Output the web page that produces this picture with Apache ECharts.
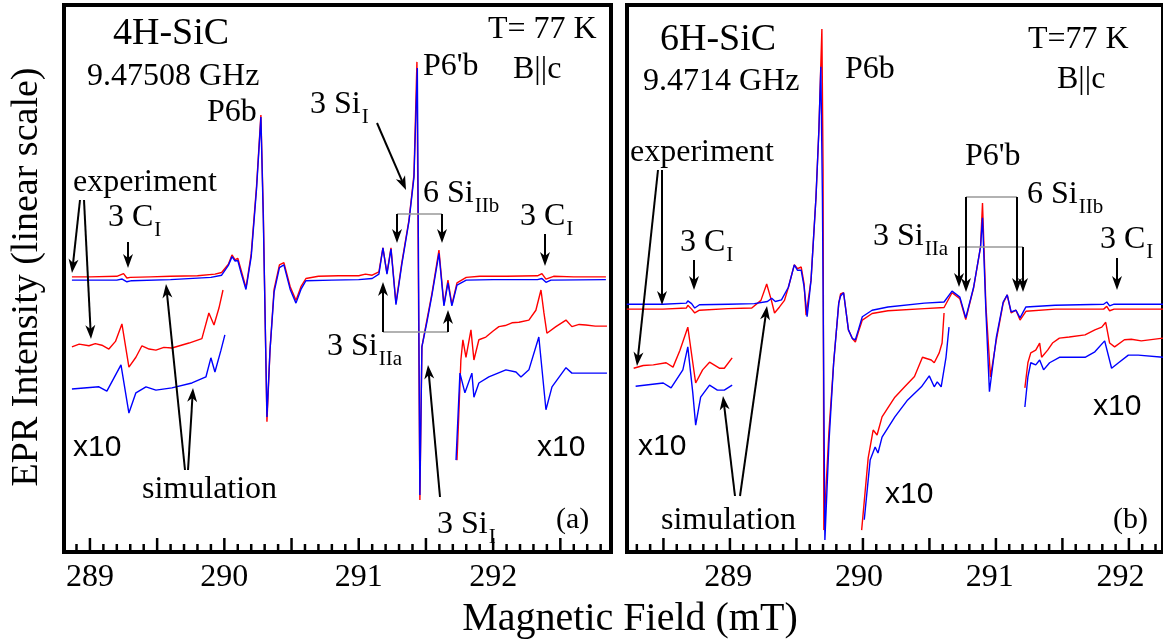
<!DOCTYPE html>
<html>
<head>
<meta charset="utf-8">
<script src="https://cdn.jsdelivr.net/npm/echarts@6/dist/echarts.min.js"></script>
<style>
  html, body { margin: 0; padding: 0; background: #fff; }
  #chart { width: 1163px; height: 641px; background: #fff; }
</style>
</head>
<body>
<div id="chart"></div>
<script>
// field (mT), intensity (a.u.)

// (a) 4H-SiC
const exp4H = [
  [288.866, 0.3], [289.0, 0.3], [289.2, 0.4], [289.25, 0.9], [289.275, 0.1], [289.3, 0.2], [289.45, 0.3],
  [289.6, 0.4], [289.8, 0.5], [289.93, 0.8], [289.98, 1.1], [290.03, 2.6], [290.057, 4.3], [290.08, 3.4],
  [290.1, 3.7], [290.125, 1.5], [290.161, -1.7], [290.2, 4.5], [290.24, 17], [290.272, 29.9], [290.29, 12],
  [290.317, -26.2], [290.34, -13], [290.37, -2], [290.41, 2.5], [290.443, 2.9], [290.49, -1.5], [290.533, -4.0],
  [290.57, -1.5], [290.607, 0.0], [290.7, 0.4], [290.85, 0.5], [291.0, 0.5], [291.05, 0.8], [291.1, 0.6],
  [291.15, 1.2], [291.18, 5.6], [291.21, 1.0], [291.24, 5.6], [291.277, -4.5], [291.32, 2.8], [291.374, 10.7],
  [291.411, 19], [291.433, 39.6], [291.455, -40.5], [291.47, -12.5], [291.507, -7.6], [291.545, -2.7],
  [291.597, 5.2], [291.634, -4.8], [291.664, -0.3], [291.693, -4.8], [291.731, -0.8], [291.8, 0.2], [291.9, 0.4],
  [292.1, 0.4], [292.33, 0.5], [292.363, 0.9], [292.393, -0.1], [292.45, 0.4], [292.6, 0.3], [292.839, 0.3]
];
const sim4H = [
  [288.866, -0.3], [289.2, -0.3], [289.24, -0.1], [289.275, -0.6], [289.31, -0.4], [289.6, -0.2], [289.9, 0.2],
  [289.98, 0.6], [290.03, 2.4], [290.057, 4.0], [290.08, 3.2], [290.1, 3.3], [290.125, 1.0], [290.161, -2.0],
  [290.2, 4], [290.24, 16.5], [290.272, 29.5], [290.29, 11], [290.317, -25.3], [290.34, -13], [290.37, -2.5],
  [290.41, 2.0], [290.443, 2.5], [290.49, -2.0], [290.533, -4.5], [290.57, -2.0], [290.607, -0.4], [290.8, -0.3],
  [291.0, -0.2], [291.1, 0.0], [291.15, 0.8], [291.18, 5.6], [291.21, 0.8], [291.24, 5.4], [291.277, -4.8],
  [291.32, 2.5], [291.374, 10.5], [291.411, 18.5], [291.436, 38.5], [291.455, -39.6], [291.47, -12.5],
  [291.507, -8], [291.545, -3.0], [291.597, 4.6], [291.634, -5.0], [291.664, -0.8], [291.693, -5.0],
  [291.731, -1.2], [291.8, -0.3], [292.0, -0.2], [292.33, -0.2], [292.363, 0.0], [292.393, -0.7], [292.43, -0.3],
  [292.839, -0.2]
];
const exp4H_x10a = [
  [288.866, -12.5], [288.92, -12.0], [288.993, -12.3], [289.04, -11.9], [289.089, -12.2], [289.141, -12.9],
  [289.19, -11.5], [289.238, -8.3], [289.29, -16.2], [289.342, -14.4], [289.387, -12.3], [289.44, -12.9],
  [289.491, -13.1], [289.55, -12.6], [289.61, -12.7], [289.68, -12.2], [289.737, -11.8], [289.833, -11.0],
  [289.885, -6.3], [289.923, -8.5], [289.96, -5.4], [289.99, -2.1]
];
const sim4H_x10a = [
  [288.866, -20.2], [289.067, -19.8], [289.126, -20.6], [289.231, -15.8], [289.29, -24.6], [289.342, -20.9],
  [289.417, -19.8], [289.491, -20.4], [289.61, -20.0], [289.759, -19.1], [289.863, -18.0], [289.9, -14.5],
  [289.93, -17.1], [289.975, -13.1], [290.004, -10.3]
];
const exp4H_x10b = [
  [291.731, -33.2], [291.746, -24.0], [291.76, -14.9], [291.775, -11.2], [291.798, -14.4], [291.835, -9.4],
  [291.857, -14.9], [291.894, -11.2], [291.946, -10.7], [292.0, -9.6], [292.043, -8.8], [292.09, -8.6],
  [292.14, -8.1], [292.192, -8.0], [292.266, -7.6], [292.318, -5.8], [292.356, -2.1], [292.378, -6.3],
  [292.4, -10.0], [292.467, -8.8], [292.542, -7.6], [292.586, -8.8], [292.64, -8.4], [292.69, -8.5],
  [292.76, -8.7], [292.847, -8.7]
];
const sim4H_x10b = [
  [291.724, -33.2], [291.753, -17.3], [291.79, -20.9], [291.842, -17.3], [291.857, -21.7], [291.894, -19.1],
  [291.968, -18.0], [292.095, -16.7], [292.17, -17.1], [292.207, -18.0], [292.266, -16.7], [292.34, -10.7],
  [292.393, -24.0], [292.438, -19.8], [292.542, -16.3], [292.586, -17.3], [292.64, -17.3], [292.847, -17.3]
];

// (b) 6H-SiC
const exp6H = [
  [288.224, -5.6], [288.5, -5.6], [288.68, -5.4], [288.691, -4.9], [288.72, -5.6], [288.744, -6.3], [288.78, -5.8],
  [289.0, -5.5], [289.18, -5.4], [289.25, -4.0], [289.294, -1.0], [289.33, -4.0], [289.354, -6.3], [289.392, -5.2],
  [289.43, -4.0], [289.46, -1.6], [289.505, 2.5], [289.53, 1.8], [289.558, 2.1], [289.58, -1.0], [289.595, -6.7],
  [289.633, -0.3], [289.671, 14.9], [289.693, 27.1], [289.716, 45.6], [289.725, 20], [289.731, -46.0],
  [289.77, -28], [289.806, -15.4], [289.845, -4.5], [289.859, -2.8], [289.882, -2.6], [289.919, -9.4],
  [289.95, -11.0], [289.972, -11.6], [289.995, -9.8], [290.025, -7.6], [290.1, -6.4], [290.221, -5.9],
  [290.5, -5.5], [290.65, -5.3], [290.711, -2.6], [290.771, -3.7], [290.816, -7.5], [290.876, -1.7],
  [290.929, 5.8], [290.944, 13.8], [290.97, -5], [291.005, -18.0], [291.05, -11.2], [291.102, -4.5],
  [291.133, -3.0], [291.163, -6.3], [291.2, -5.8], [291.231, -7.6], [291.276, -6.0], [291.5, -5.6],
  [291.87, -5.6], [291.894, -5.1], [291.916, -5.9], [291.95, -5.6], [292.324, -5.6]
];
const sim6H = [
  [288.224, -4.7], [288.5, -4.7], [288.68, -4.5], [288.691, -4.1], [288.72, -4.6], [288.744, -5.4], [288.78, -4.8],
  [289.0, -4.7], [289.2, -4.6], [289.3, -4.2], [289.332, -3.6], [289.36, -4.2], [289.407, -3.9], [289.46, -1.6],
  [289.505, 2.5], [289.53, 1.5], [289.558, 1.5], [289.58, -1.5], [289.603, -7.0], [289.633, -0.3], [289.671, 14.9],
  [289.693, 27.1], [289.708, 38.7], [289.72, 15], [289.739, -47.8], [289.77, -30], [289.806, -15.4],
  [289.845, -4.5], [289.859, -3.2], [289.882, -2.6], [289.919, -9.4], [289.95, -11.0], [289.972, -11.2],
  [289.995, -9.4], [290.025, -7.0], [290.1, -5.8], [290.221, -5.2], [290.5, -4.5], [290.65, -4.3],
  [290.711, -2.3], [290.771, -3.4], [290.816, -7.2], [290.876, -1.6], [290.929, 5.8], [290.944, 11.1],
  [290.97, -6], [290.997, -20.7], [291.05, -10.7], [291.102, -4.3], [291.133, -3.0], [291.163, -6.1],
  [291.2, -5.8], [291.231, -7.2], [291.276, -5.2], [291.5, -4.9], [291.87, -4.7], [291.894, -4.3],
  [291.916, -5.0], [291.95, -4.7], [292.324, -4.7]
];
const exp6H_x10a = [
  [288.277, -16.4], [288.35, -15.9], [288.427, -15.8], [288.525, -15.4], [288.578, -16.2], [288.631, -13.1],
  [288.691, -8.9], [288.729, -15.4], [288.751, -19.1], [288.804, -16.7], [288.857, -15.3], [288.932, -16.4],
  [288.97, -16.4], [289.03, -14.5]
];
const sim6H_x10a = [
  [288.292, -19.7], [288.503, -19.1], [288.563, -20.0], [288.653, -16.7], [288.691, -12.5], [288.729, -20.9],
  [288.751, -26.8], [288.789, -21.7], [288.857, -19.5], [288.917, -20.4], [288.97, -20.4], [289.03, -19.5]
];
const exp6H_x10b = [
  [290.02, -46.0], [290.07, -32.8], [290.108, -27.7], [290.138, -28.6], [290.176, -25.3], [290.274, -21.7],
  [290.349, -19.8], [290.424, -17.9], [290.485, -14.4], [290.552, -14.9], [290.575, -15.4], [290.613, -13.6],
  [290.635, -11.8], [290.65, -6.3]
];
const sim6H_x10b = [
  [290.04, -44.1], [290.085, -33.2], [290.123, -30.8], [290.145, -31.9], [290.176, -29.0], [290.274, -25.3],
  [290.372, -22.2], [290.477, -19.8], [290.537, -17.8], [290.575, -19.8], [290.598, -18.9], [290.628, -19.8],
  [290.665, -14.4], [290.688, -8.9]
];
const exp6H_x10c = [
  [291.268, -20.0], [291.291, -15.4], [291.313, -13.6], [291.351, -13.1], [291.381, -11.8], [291.396, -14.4],
  [291.442, -13.1], [291.479, -11.8], [291.532, -10.9], [291.607, -10.7], [291.728, -10.3], [291.803, -9.4],
  [291.856, -8.9], [291.886, -8.0], [291.916, -11.8], [291.954, -12.5], [292.029, -11.2], [292.082, -11.1],
  [292.158, -11.4], [292.324, -10.9]
];
const sim6H_x10c = [
  [291.268, -23.5], [291.291, -18.0], [291.313, -15.4], [291.351, -15.8], [291.381, -14.9], [291.411, -16.7],
  [291.457, -15.4], [291.532, -14.4], [291.728, -14.4], [291.803, -13.4], [291.878, -11.4], [291.931, -16.4],
  [291.984, -15.4], [292.059, -14.0], [292.135, -14.0], [292.324, -14.4]
];

const labelTicks = [289, 290, 291, 292];
const majorTicks4H = [289, 289.5, 290, 290.5, 291, 291.5, 292, 292.5];
const majorTicks6H = [288.5, 289, 289.5, 290, 290.5, 291, 291.5, 292];
const range4H = [288.807, 292.877];
const range6H = [288.226, 292.324];
const yRange = [-50, 50];

const RED = '#ff0000';
const BLUE = '#0000ff';
const serif = "'Liberation Serif', 'Times New Roman', serif";
const sans = "'Liberation Sans', Arial, sans-serif";

const gridA = { left: 64, top: 5, width: 547, height: 547 };
const gridB = { left: 627, top: 5, width: 545, height: 547 };

function minorTicks(lo, hi) {
  const out = [];
  for (let v = Math.ceil(lo * 10); v <= Math.floor(hi * 10); v++) {
    if (v % 5 !== 0) out.push(v / 10);
  }
  return out;
}

function xAxis(gridIndex, range) {
  return {
    type: 'value', gridIndex, min: range[0], max: range[1], position: 'bottom',
    axisLine: { show: false, onZero: false }, splitLine: { show: false }, axisTick: { show: false },
    axisLabel: { customValues: labelTicks, margin: 10, fontFamily: serif, fontSize: 32, color: '#000' }
  };
}

function trace(data, color, xi, yi) {
  return {
    type: 'line', data, xAxisIndex: xi, yAxisIndex: yi, showSymbol: false, symbol: 'none',
    lineStyle: { color, width: 1.4 }, silent: true, animation: false, clip: true
  };
}

// tick marks standing on the bottom frame, on their own top layer
function tickMarks(grid, range, major) {
  const els = [];
  const yb = grid.top + grid.height - 1;
  const at = v => grid.left + (v - range[0]) / (range[1] - range[0]) * grid.width;
  const add = (v, len) => els.push({
    type: 'rect', zlevel: 1, z: 10, silent: true,
    shape: { x: at(v) - 1.25, y: yb - len, width: 2.5, height: len },
    style: { fill: '#000' }
  });
  major.forEach(v => add(v, 13));
  minorTicks(range[0], range[1]).forEach(v => add(v, 7));
  return els;
}

// annotation helpers (pixel positions)
const measure = document.createElement('canvas').getContext('2d');
function txt(x, base, s, size, family, align) {
  return {
    type: 'text', x, y: base - 0.34 * size, z: 100,
    style: { text: s, fontSize: size, fontFamily: family || serif, fill: '#000', textAlign: align || 'left', textVerticalAlign: 'middle' }
  };
}
function subTxt(x, base, s, sub, size) {
  size = size || 32;
  measure.font = size + 'px ' + serif;
  const w = measure.measureText(s).width;
  return [txt(x, base, s, size), txt(x + w + 1, base + 10, sub, 21)];
}
function arrow(x1, y1, x2, y2) {
  const dx = x2 - x1, dy = y2 - y1, len = Math.hypot(dx, dy);
  const ux = dx / len, uy = dy / len, nx = -uy, ny = ux;
  const L = 14, W = 5, N = 4;
  return [
    { type: 'line', z: 100, shape: { x1, y1, x2: x2 - ux * (L - N), y2: y2 - uy * (L - N) }, style: { stroke: '#000', lineWidth: 2 } },
    { type: 'polygon', z: 100, shape: { points: [
      [x2, y2],
      [x2 - ux * L + nx * W, y2 - uy * L + ny * W],
      [x2 - ux * (L - N), y2 - uy * (L - N)],
      [x2 - ux * L - nx * W, y2 - uy * L - ny * W]
    ] }, style: { fill: '#000' } }
  ];
}
function grayLine(x1, y, x2) {
  return { type: 'line', z: 99, shape: { x1, y1: y, x2, y2: y }, style: { stroke: '#999', lineWidth: 1.5 } };
}

const graphics = [].concat(
  // panel (a)
  txt(113, 47, '4H-SiC', 38),
  txt(87, 87, '9.47508 GHz', 32),
  txt(207, 123, 'P6b', 32),
  txt(488, 40, 'T= 77 K', 32),
  txt(513, 80, 'B||c', 32),
  txt(423, 77, "P6'b", 32),
  subTxt(310, 115, '3 Si', 'I'),
  arrow(377, 123, 406, 190),
  subTxt(423, 204, '6 Si', 'IIb'),
  grayLine(397, 214, 442),
  arrow(397, 214, 397, 243),
  arrow(442, 214, 442, 243),
  subTxt(520, 227, '3 C', 'I'),
  arrow(545, 234, 545, 266),
  subTxt(327, 357, '3 Si', 'IIa'),
  grayLine(383, 332, 448),
  arrow(383, 332, 383, 282),
  arrow(448, 332, 448, 310),
  subTxt(437, 535, '3 Si', 'I'),
  arrow(440, 497, 428, 365),
  txt(73, 193, 'experiment', 32),
  arrow(80, 200, 72, 273),
  arrow(84, 200, 91, 339),
  subTxt(108, 228, '3 C', 'I'),
  arrow(128, 242, 128, 268),
  txt(142, 500, 'simulation', 32),
  arrow(185, 470, 166, 284),
  arrow(188, 470, 193, 388),
  txt(73, 458, 'x10', 30, sans),
  txt(537, 458, 'x10', 30, sans),
  txt(556, 530, '(a)', 30),
  // panel (b)
  txt(660, 53, '6H-SiC', 38),
  txt(643, 92, '9.4714 GHz', 32),
  txt(845, 80, 'P6b', 32),
  txt(1028, 50, 'T=77 K', 32),
  txt(1057, 90, 'B||c', 32),
  txt(965, 167, "P6'b", 32),
  subTxt(1027, 205, '6 Si', 'IIb'),
  grayLine(966, 197, 1017),
  arrow(966, 197, 966, 292),
  arrow(1017, 197, 1017, 292),
  subTxt(873, 247, '3 Si', 'IIa'),
  grayLine(959, 247, 1023),
  arrow(959, 247, 959, 287),
  arrow(1023, 247, 1023, 292),
  subTxt(1100, 250, '3 C', 'I'),
  arrow(1117, 258, 1117, 290),
  txt(630, 163, 'experiment', 32),
  arrow(662, 170, 662, 305),
  arrow(658, 170, 637, 366),
  subTxt(680, 253, '3 C', 'I'),
  arrow(694, 260, 694, 290),
  txt(661, 531, 'simulation', 32),
  arrow(735, 496, 723, 396),
  arrow(740, 496, 767, 306),
  txt(638, 457, 'x10', 30, sans),
  txt(885, 505, 'x10', 30, sans),
  txt(1093, 417, 'x10', 30, sans),
  txt(1113, 530, '(b)', 30),
  // axis titles
  {
    type: 'text', x: 27, y: 277, rotation: Math.PI / 2, z: 100,
    style: { text: 'EPR Intensity (linear scale)', fontSize: 38, fontFamily: serif, fill: '#000', textAlign: 'center', textVerticalAlign: 'middle' }
  },
  txt(630, 633, 'Magnetic Field (mT)', 40, serif, 'center'),
  tickMarks(gridA, range4H, majorTicks4H),
  tickMarks(gridB, range6H, majorTicks6H)
);

const chart = echarts.init(document.getElementById('chart'), null, { renderer: 'canvas' });
chart.setOption({
  animation: false,
  grid: [
    Object.assign({ show: true, borderColor: '#000', borderWidth: 4, backgroundColor: 'transparent' }, gridA),
    Object.assign({ show: true, borderColor: '#000', borderWidth: 4, backgroundColor: 'transparent' }, gridB)
  ],
  xAxis: [xAxis(0, range4H), xAxis(1, range6H)],
  yAxis: [
    { type: 'value', gridIndex: 0, min: yRange[0], max: yRange[1], show: false },
    { type: 'value', gridIndex: 1, min: yRange[0], max: yRange[1], show: false }
  ],
  series: [
    trace(exp4H, RED, 0, 0), trace(sim4H, BLUE, 0, 0),
    trace(exp4H_x10a, RED, 0, 0), trace(sim4H_x10a, BLUE, 0, 0),
    trace(exp4H_x10b, RED, 0, 0), trace(sim4H_x10b, BLUE, 0, 0),
    trace(exp6H, RED, 1, 1), trace(sim6H, BLUE, 1, 1),
    trace(exp6H_x10a, RED, 1, 1), trace(sim6H_x10a, BLUE, 1, 1),
    trace(exp6H_x10b, RED, 1, 1), trace(sim6H_x10b, BLUE, 1, 1),
    trace(exp6H_x10c, RED, 1, 1), trace(sim6H_x10c, BLUE, 1, 1)
  ],
  graphic: graphics
});
</script>
</body>
</html>
